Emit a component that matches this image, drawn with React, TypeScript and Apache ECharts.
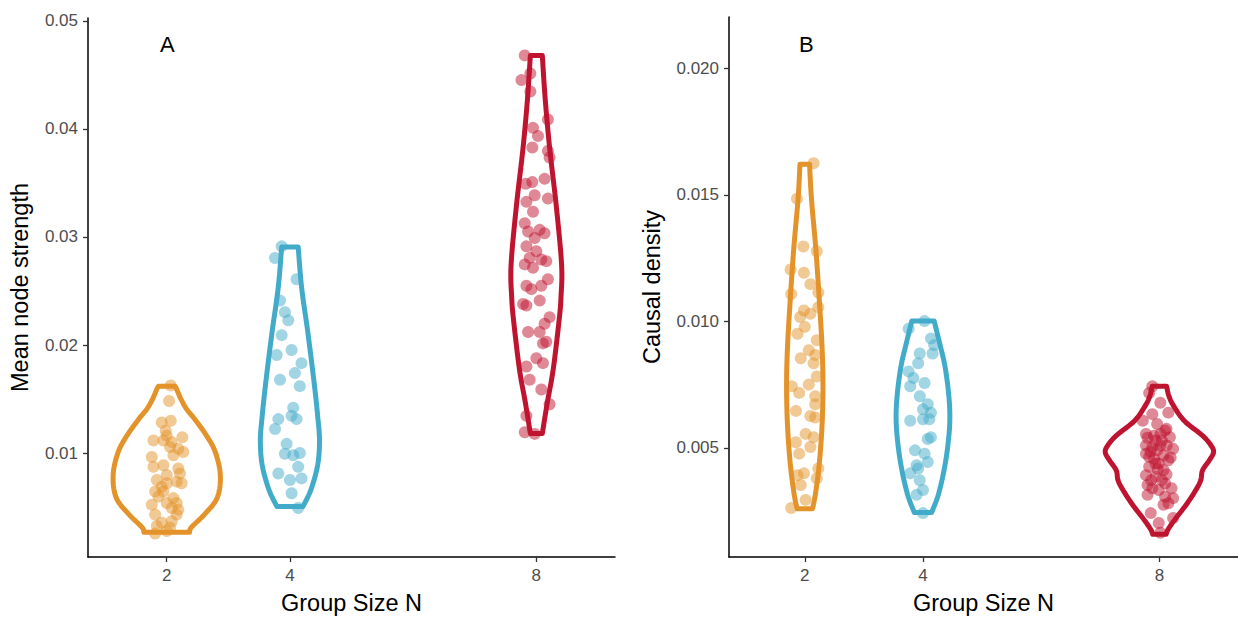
import React, { useEffect, useRef } from "react";
import * as echarts from "echarts";

// ---------- data ----------
const groupSizes = [2, 4, 8];
const xTickLabels = ["2", "4", "8"];
const yTicksA = [0.01, 0.02, 0.03, 0.04, 0.05];
const yTicksB = [0.005, 0.01, 0.015, 0.02];
const panelLabels = ["A", "B"];
const yTitles = ["Mean node strength", "Causal density"];
const xTitle = "Group Size N";

// violin outlines: [value, half-width in x units], top to bottom
const violinA2 = [[0.01619, 0.134], [0.01592, 0.16], [0.0150, 0.23], [0.01409, 0.32], [0.01317, 0.45], [0.01162, 0.645], [0.01006, 0.79], [0.00796, 0.87], [0.00586, 0.82], [0.0043, 0.61], [0.00312, 0.4], [0.00266, 0.37]];
const violinA4 = [[0.02908, 0.134], [0.02531, 0.19], [0.0212, 0.29], [0.01664, 0.39], [0.01345, 0.45], [0.01116, 0.48], [0.00888, 0.45], [0.00659, 0.34], [0.00504, 0.21]];
const violinA8 = [[0.04681, 0.097], [0.04269, 0.145], [0.03812, 0.218], [0.03291, 0.323], [0.02743, 0.41], [0.02441, 0.4], [0.02231, 0.37], [0.01774, 0.274], [0.01463, 0.177], [0.0118, 0.097]];
const violinB2 = [[0.01621, 0.081], [0.01485, 0.113], [0.01289, 0.186], [0.01095, 0.243], [0.009, 0.292], [0.00744, 0.308], [0.00587, 0.292], [0.00431, 0.243], [0.00314, 0.178], [0.00259, 0.13]];
const violinB4 = [[0.01001, 0.19], [0.00919, 0.276], [0.00821, 0.373], [0.00704, 0.438], [0.00607, 0.454], [0.00509, 0.421], [0.00412, 0.357], [0.00314, 0.259], [0.00244, 0.146]];
const violinB8 = [[0.00743, 0.122], [0.00704, 0.162], [0.00665, 0.243], [0.00607, 0.42], [0.00548, 0.73], [0.00509, 0.875], [0.00482, 0.916], [0.0045, 0.843], [0.00411, 0.73], [0.00372, 0.7], [0.00333, 0.616], [0.00275, 0.454], [0.00216, 0.26], [0.00177, 0.146], [0.00158, 0.113]];

// jittered points: [x jitter, value]
const pointsA2 = [[0.065, 0.01625], [0.038, 0.01481], [0.065, 0.01299], [-0.081, 0.01283], [-0.016, 0.01207], [0, 0.01161], [-0.215, 0.01116], [-0.054, 0.01116], [0.253, 0.01146], [0.081, 0.01101], [-0.242, 0.00963], [0.054, 0.01055], [0.188, 0.0104], [0.269, 0.01009], [0.108, 0.00979], [-0.215, 0.00872], [-0.054, 0.00887], [0.188, 0.00857], [0, 0.00796], [0.215, 0.00811], [-0.161, 0.0075], [0.161, 0.00735], [0.242, 0.0072], [-0.081, 0.00689], [0, 0.0072], [-0.188, 0.00644], [-0.054, 0.00644], [-0.134, 0.00598], [0.108, 0.00583], [-0.242, 0.00522], [0, 0.00537], [0.161, 0.00537], [0.081, 0.00491], [0.188, 0.00476], [-0.188, 0.0043], [0.161, 0.0043], [-0.081, 0.00354], [0.081, 0.00369], [-0.161, 0.00324], [0.054, 0.00308], [-0.188, 0.00254], [0, 0.00278]];
const pointsA4 = [[-0.134, 0.02913], [-0.242, 0.02806], [0.108, 0.02609], [-0.161, 0.02411], [-0.081, 0.02304], [-0.027, 0.02228], [-0.134, 0.02091], [0.027, 0.01954], [-0.215, 0.01908], [0.188, 0.01832], [0.081, 0.0174], [-0.161, 0.01679], [0.161, 0.01619], [0.054, 0.0142], [-0.188, 0.01314], [0.027, 0.01344], [0.108, 0.01314], [-0.242, 0.01222], [-0.054, 0.01085], [-0.081, 0.00994], [0.054, 0.00979], [0.161, 0.01], [0.134, 0.00872], [-0.188, 0.00811], [0, 0.0075], [0.188, 0.00765], [0.027, 0.00628], [0.134, 0.00491]];
const pointsA8 = [[-0.188, 0.04681], [-0.097, 0.04513], [-0.242, 0.04452], [-0.097, 0.04346], [0.188, 0.04087], [-0.054, 0.0401], [0.027, 0.03934], [-0.065, 0.03828], [0.188, 0.03797], [0.215, 0.03736], [0.134, 0.03538], [-0.065, 0.03508], [-0.172, 0.03492], [0.188, 0.03355], [-0.161, 0.03325], [-0.027, 0.03386], [-0.054, 0.03233], [-0.188, 0.03127], [0.054, 0.03066], [-0.134, 0.03051], [0.134, 0.03035], [-0.027, 0.0299], [-0.161, 0.02913], [0, 0.02868], [-0.108, 0.02807], [0.081, 0.02792], [0.161, 0.02776], [-0.188, 0.02746], [-0.054, 0.02715], [0.188, 0.02609], [-0.161, 0.02548], [-0.081, 0.02517], [0.081, 0.02548], [-0.215, 0.0238], [-0.161, 0.02365], [0.054, 0.02411], [0.215, 0.02258], [0.134, 0.02197], [-0.134, 0.02121], [0.054, 0.02121], [0.108, 0.02015], [0.161, 0.0203], [0, 0.01878], [0.108, 0.01832], [-0.161, 0.01801], [-0.108, 0.01679], [0.081, 0.01588], [0.215, 0.01451], [-0.161, 0.01344], [-0.188, 0.01192], [-0.027, 0.01177]];
const pointsB2 = [[0.149, 0.01625], [-0.132, 0.01485], [-0.024, 0.01296], [0.203, 0.01277], [-0.24, 0.01205], [-0.014, 0.01192], [0.095, 0.01147], [-0.23, 0.01108], [0.23, 0.01114], [-0.014, 0.01043], [0.23, 0.01056], [-0.078, 0.01017], [0.095, 0.0103], [0, 0.00978], [-0.122, 0.00951], [0.203, 0.00925], [0.068, 0.00886], [-0.068, 0.00854], [0.176, 0.00867], [0.149, 0.00834], [0.203, 0.00782], [-0.219, 0.00743], [0.068, 0.0075], [-0.095, 0.00717], [0.176, 0.00704], [0.176, 0.00672], [-0.149, 0.00646], [0.095, 0.00626], [0.176, 0.0062], [0.014, 0.00555], [0.149, 0.00542], [-0.149, 0.00522], [0.095, 0.00503], [-0.095, 0.00477], [-0.014, 0.00399], [-0.122, 0.00392], [0.23, 0.00418], [0.203, 0.00379], [-0.068, 0.00353], [0.014, 0.00294], [-0.23, 0.00262]];
const pointsB4 = [[0.027, 0.01001], [-0.243, 0.00971], [0.135, 0.00932], [0.189, 0.00906], [-0.054, 0.00873], [0.162, 0.00873], [-0.081, 0.00834], [-0.243, 0.00802], [-0.162, 0.00776], [0.027, 0.00756], [-0.216, 0.00743], [-0.054, 0.00704], [0.081, 0.00672], [0, 0.00652], [0.135, 0.00639], [-0.216, 0.00607], [0, 0.00613], [0.108, 0.00613], [0.135, 0.00542], [0.081, 0.00535], [-0.135, 0.0049], [0.027, 0.00477], [0.081, 0.00444], [-0.108, 0.00431], [-0.081, 0.00418], [-0.216, 0.00399], [-0.054, 0.00372], [0, 0.00333], [-0.108, 0.00314], [0, 0.00242]];
const pointsB8 = [[-0.119, 0.00743], [-0.173, 0.00717], [0.016, 0.00678], [0.151, 0.00639], [-0.119, 0.00633], [-0.038, 0.00594], [0.097, 0.00568], [-0.227, 0.00555], [-0.092, 0.00548], [0.178, 0.00542], [0.043, 0.00529], [-0.227, 0.00509], [-0.119, 0.00503], [-0.038, 0.0049], [0.232, 0.00496], [-0.227, 0.00477], [0.07, 0.0047], [-0.092, 0.00457], [0.151, 0.00451], [-0.011, 0.00438], [-0.173, 0.00425], [0.07, 0.00412], [-0.227, 0.00392], [-0.065, 0.00386], [0.043, 0.00372], [-0.2, 0.00353], [-0.119, 0.0034], [-0.011, 0.00333], [0.205, 0.0034], [-0.2, 0.00314], [0.097, 0.00307], [0.232, 0.00301], [0.07, 0.00275], [0.151, 0.00281], [-0.146, 0.00242], [0.232, 0.00223], [-0.011, 0.00203], [0.016, 0.00164], [-0.281, 0.00607], [0.124, 0.00509], [0.016, 0.00509], [-0.065, 0.00529], [-0.173, 0.00464], [0.097, 0.00359], [-0.065, 0.00438], [0.12, 0.00575], [-0.15, 0.00485], [0.19, 0.00462], [-0.03, 0.00415], [0.12, 0.00395], [-0.14, 0.00372], [0.02, 0.00555], [-0.2, 0.0054]];

const colors = ["#E4932A", "#43ABCA", "#BF1430"];

const violins = [[violinA2, violinA4, violinA8], [violinB2, violinB4, violinB8]];
const points = [[pointsA2, pointsA4, pointsA8], [pointsB2, pointsB4, pointsB8]];

const FONT = "'Liberation Sans', Arial, Helvetica, sans-serif";

function catmull(pts: number[][]): number[][] {
  const out: number[][] = [];
  for (let i = 0; i < pts.length - 1; i++) {
    const p0 = pts[i - 1] || pts[i];
    const p1 = pts[i];
    const p2 = pts[i + 1];
    const p3 = pts[i + 2] || pts[i + 1];
    for (let k = 0; k < 10; k++) {
      const t = k / 10, t2 = t * t, t3 = t2 * t;
      const f = (a: number, b: number, c: number, d: number) =>
        0.5 * (2 * b + (-a + c) * t + (2 * a - 5 * b + 4 * c - d) * t2 + (-a + 3 * b - 3 * c + d) * t3);
      out.push([f(p0[0], p1[0], p2[0], p3[0]), f(p0[1], p1[1], p2[1], p3[1])]);
    }
  }
  out.push(pts[pts.length - 1]);
  return out;
}

export default function App() {
  const ref = useRef<HTMLDivElement>(null);
  useEffect(() => {
    if (!ref.current) return;
    const chart = echarts.init(ref.current, null, { renderer: "svg" });

    const grids = [
      { left: 88, top: 18, width: 527, bottom: 57.3 },
      { left: 729, top: 17, width: 522, bottom: 57.3 },
    ];
    const xRanges = [[0.722, 9.277], [0.718, 9.33]];
    const yRanges = [[0.000376, 0.05027], [0.000684, 0.02203]];
    const yTicks = [yTicksA, yTicksB];
    const yDigits = [2, 3];
    const nameGaps = [56, 65];

    const xAxis = grids.map((_, p) => ({
      type: "value",
      gridIndex: p,
      min: xRanges[p][0],
      max: xRanges[p][1],
      name: xTitle,
      nameLocation: "middle",
      nameGap: 34,
      nameTextStyle: { fontFamily: FONT, fontSize: 23.5, color: "#000" },
      axisLine: { show: true, lineStyle: { color: "#000", width: 1.5 } },
      axisTick: { show: true, length: 5, customValues: groupSizes, lineStyle: { color: "#333", width: 1.3 } },
      axisLabel: {
        customValues: groupSizes,
        margin: 10,
        fontFamily: FONT,
        fontSize: 17,
        color: "#4D4D4D",
        formatter: (v: number) => xTickLabels[groupSizes.indexOf(v)] ?? "",
      },
      splitLine: { show: false },
    }));

    const yAxis = grids.map((_, p) => ({
      type: "value",
      gridIndex: p,
      min: yRanges[p][0],
      max: yRanges[p][1],
      name: yTitles[p],
      nameLocation: "middle",
      nameGap: nameGaps[p],
      nameRotate: 90,
      nameTextStyle: { fontFamily: FONT, fontSize: 23.5, color: "#000" },
      axisLine: { show: true, lineStyle: { color: "#000", width: 1.5 } },
      axisTick: { show: true, length: 5, customValues: yTicks[p], lineStyle: { color: "#333", width: 1.3 } },
      axisLabel: {
        customValues: yTicks[p],
        margin: 10,
        fontFamily: FONT,
        fontSize: 17,
        color: "#4D4D4D",
        formatter: (v: number) => v.toFixed(yDigits[p]),
      },
      splitLine: { show: false },
    }));

    const series: any[] = [];
    for (let p = 0; p < 2; p++) {
      for (let g = 0; g < 3; g++) {
        const prof = violins[p][g];
        const cx = groupSizes[g];
        const color = colors[g];
        series.push({
          type: "custom",
          xAxisIndex: p,
          yAxisIndex: p,
          silent: true,
          z: 2,
          data: [[cx, prof[0][0]]],
          renderItem: (params: any, api: any) => {
            const right = prof.map(([y, hw]) => api.coord([cx + hw, y]));
            const left = prof.map(([y, hw]) => api.coord([cx - hw, y]));
            const pts = catmull(right).concat(catmull(left).reverse());
            return {
              type: "polygon",
              shape: { points: pts },
              style: { fill: "none", stroke: color, lineWidth: 5, lineJoin: "round" },
            };
          },
        });
        series.push({
          type: "scatter",
          xAxisIndex: p,
          yAxisIndex: p,
          silent: true,
          z: 3,
          symbolSize: 12,
          itemStyle: { color, opacity: 0.5 },
          data: points[p][g].map(([dx, y]) => [cx + dx, y]),
        });
      }
    }

    chart.setOption({
      animation: false,
      backgroundColor: "#fff",
      grid: grids,
      xAxis,
      yAxis,
      series,
      graphic: [
        { type: "text", left: 160, top: 33, style: { text: panelLabels[0], fontFamily: FONT, fontSize: 22, fill: "#000" } },
        { type: "text", left: 799, top: 33, style: { text: panelLabels[1], fontFamily: FONT, fontSize: 22, fill: "#000" } },
      ],
    });
    return () => chart.dispose();
  }, []);

  return (
    <div
      ref={ref}
      style={{ position: "fixed", left: 0, top: 0, width: 1238, height: 620, background: "#fff" }}
    />
  );
}
